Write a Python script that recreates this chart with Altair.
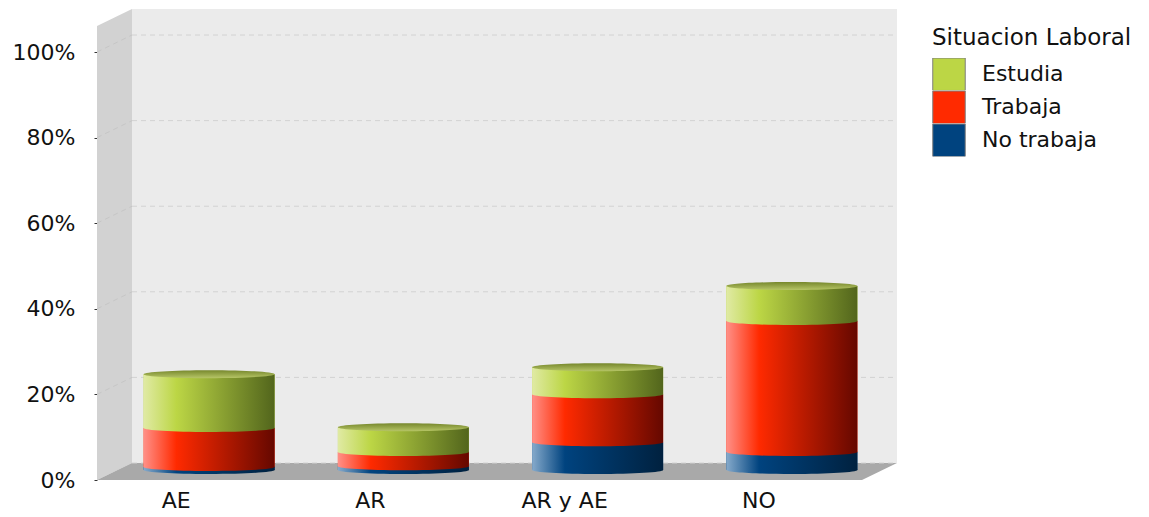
import altair as alt
import pandas as pd

FONT = "DejaVu Sans"
TEXT_SIZE = 22

categories = ["AE", "AR", "AR y AE", "NO"]
series = ["No trabaja", "Trabaja", "Estudia"]
no_trabaja = [0.7, 0.9, 6.5, 4.2]
trabaja = [9.1, 3.3, 11.2, 30.6]
estudia = [12.6, 5.8, 6.3, 8.2]
ticks = [0, 20, 40, 60, 80, 100]
legend_order = ["Estudia", "Trabaja", "No trabaja"]
solid = ["#bcd645", "#ff2a00", "#00437f"]

values = {"No trabaja": no_trabaja, "Trabaja": trabaja, "Estudia": estudia}


def shade(first, mid, last):
    return {
        "gradient": "linear", "x1": 0, "y1": 0, "x2": 1, "y2": 0,
        "stops": [
            {"offset": 0, "color": first},
            {"offset": 0.25, "color": mid},
            {"offset": 1, "color": last},
        ],
    }


shades = {
    "No trabaja": shade("#86aacb", "#00437f", "#00213f"),
    "Trabaja": shade("#ff9088", "#ff2a00", "#650800"),
    "Estudia": shade("#e0eaa4", "#bcd645", "#52651c"),
}
lid = {
    "gradient": "linear", "x1": 0, "y1": 0, "x2": 0, "y2": 1,
    "stops": [{"offset": 0, "color": "#76872c"}, {"offset": 1, "color": "#b6c566"}],
}

# Cumulative extents for each stacked segment
rows = []
for i, cat in enumerate(categories):
    base = 0.0
    for s in series:
        rows.append({"cat": cat, "serie": s, "start": base, "end": base + values[s][i]})
        base += values[s][i]
table = pd.DataFrame(rows)
tops = table[table.serie == "Estudia"]
grid = pd.DataFrame({"pct": ticks})

Y_MAX = 110.05
DEPTH = 35
LIFT = 17
FRONT_W = 765
WALL_BASE = LIFT / 4.28

x_band = alt.X(
    "cat:N",
    sort=categories,
    title=None,
    scale=alt.Scale(type="band", domain=categories, range=[15, 792],
                    paddingInner=0.3256, paddingOuter=0.1628),
    axis=alt.Axis(domain=False, ticks=False, labelAngle=0, labelOffset=-33, labelPadding=10,
                  labelFont=FONT, labelFontSize=TEXT_SIZE, labelColor="#111111", grid=False),
)
y_pct = alt.Y(
    "pct:Q",
    title=None,
    scale=alt.Scale(domain=[0, Y_MAX], nice=False),
    axis=alt.Axis(values=ticks, labelExpr="datum.value + '%'", domain=False, grid=False,
                  tickSize=3, tickColor="#333333", labelPadding=19,
                  labelFont=FONT, labelFontSize=TEXT_SIZE, labelColor="#111111"),
)

# The three faces of the box behind the cylinders
back_wall = alt.Chart(pd.DataFrame({"lo": [WALL_BASE], "hi": [Y_MAX]})).mark_rect(color="#ebebeb").encode(
    x=alt.value(DEPTH), x2=alt.value(FRONT_W + DEPTH),
    y=alt.Y("lo:Q", title=None, scale=alt.Scale(domain=[0, Y_MAX], nice=False)), y2="hi:Q",
)
left_wall = alt.Chart(pd.DataFrame({
    "d": [0, DEPTH], "lo": [0, WALL_BASE], "hi": [106.07, Y_MAX],
})).mark_area(color="#d2d2d2", orient="vertical", opacity=1).encode(
    x=alt.X("d:Q", scale=None, axis=None),
    y=alt.Y("lo:Q", title=None), y2="hi:Q",
)
floor = alt.Chart(pd.DataFrame({
    "lev": [0, WALL_BASE], "a": [0, DEPTH], "b": [FRONT_W, FRONT_W + DEPTH],
})).mark_area(color="#a9a9a9", orient="horizontal", opacity=1).encode(
    x=alt.X("a:Q", scale=None, axis=None), x2="b:Q",
    y=alt.Y("lev:Q", title=None),
)
back_grid = alt.Chart(grid).mark_rule(color="#d2d2d2", strokeDash=[5, 4], strokeWidth=1, yOffset=-LIFT).encode(
    x=alt.value(DEPTH), x2=alt.value(FRONT_W + DEPTH), y=alt.Y("pct:Q", title=None),
)
side_grid = alt.Chart(grid[grid.pct > 0]).mark_rule(color="#c6c6c6", strokeDash=[5, 4], strokeWidth=1, y2Offset=-LIFT).encode(
    x=alt.value(0), x2=alt.value(DEPTH), y=alt.Y("pct:Q", title=None), y2="pct:Q",
)
axis_layer = alt.Chart(grid).mark_point(opacity=0).encode(y=y_pct)

# Flat-coloured bars carry the legend; the shaded cylinders sit on top of them
legend_bars = alt.Chart(table).mark_bar(yOffset=-10, y2Offset=-10).encode(
    x=x_band,
    y=alt.Y("start:Q", title=None),
    y2="end:Q",
    color=alt.Color(
        "serie:N",
        scale=alt.Scale(domain=legend_order, range=solid),
        legend=alt.Legend(
            title="Situacion Laboral", orient="none", legendX=835, legendY=18,
            titleFont=FONT, titleFontSize=TEXT_SIZE + 1, titleFontWeight="normal", titleColor="#111111",
            titleLimit=300, titlePadding=8, labelFont=FONT, labelFontSize=TEXT_SIZE, labelColor="#111111",
            symbolType="square", symbolSize=1056, symbolStrokeColor="#7f7f7f",
            symbolStrokeWidth=1, symbolOpacity=1, rowPadding=0, clipHeight=32.5, labelOffset=16,
        ),
    ),
)

ELLIPSE = "M-1,0 A1,0.061,0,1,1,1,0 A1,0.061,0,1,1,-1,0 Z"
ELLIPSE_SIZE = 131 ** 2

cylinder_layers = []
for s in series:
    part = alt.Chart(table[table.serie == s])
    body = part.mark_bar(fill=shades[s], yOffset=-10, y2Offset=-10, opacity=1).encode(
        x=x_band, y=alt.Y("start:Q", title=None), y2="end:Q",
    )
    base_cap = part.mark_point(
        shape=ELLIPSE, size=ELLIPSE_SIZE, filled=True, fill=shades[s], opacity=1,
        strokeWidth=0, yOffset=-10,
    ).encode(x=x_band, y=alt.Y("start:Q", title=None))
    cylinder_layers += [base_cap, body]

top_cap = alt.Chart(tops).mark_point(
    shape=ELLIPSE, size=ELLIPSE_SIZE, filled=True, fill=lid, opacity=1, strokeWidth=0, yOffset=-10,
).encode(x=x_band, y=alt.Y("end:Q", title=None))

chart = alt.layer(
    back_wall, left_wall, floor, back_grid, side_grid, axis_layer, legend_bars,
    *cylinder_layers, top_cap,
).properties(
    width=800, height=471,
    autosize=alt.AutoSizeParams(type="none"),
    padding={"left": 97, "top": 9, "right": 252, "bottom": 37},
    background="white",
).configure_view(stroke=None)

chart.save("out.html", embed_options={"renderer": "svg", "actions": False})
